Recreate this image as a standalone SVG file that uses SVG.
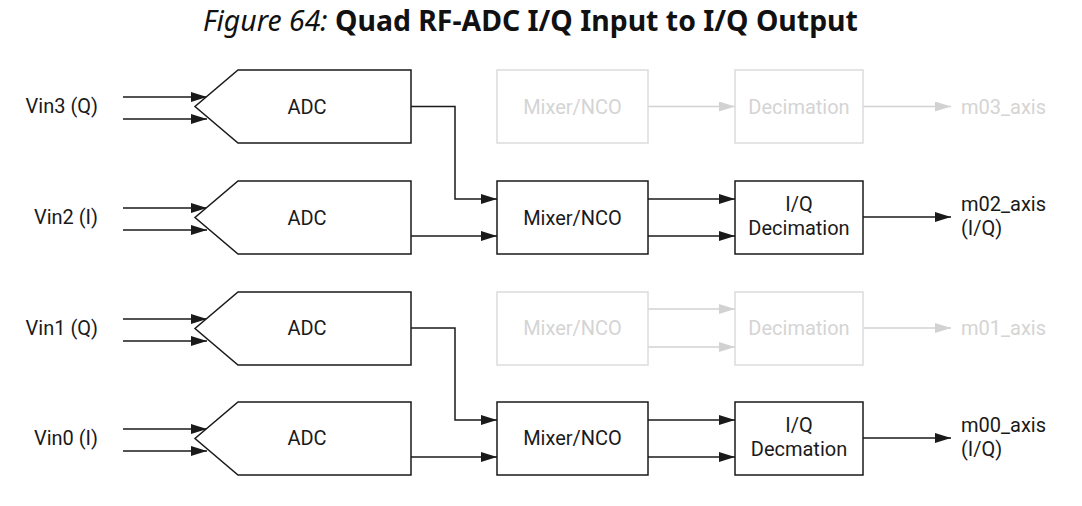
<svg xmlns="http://www.w3.org/2000/svg" width="1082" height="506" viewBox="0 0 1082 506">
<style>
.t{font-family:Roboto,"Liberation Sans",sans-serif;font-size:20px;fill:#1a1a1a}
.tc{text-anchor:middle}
.te{text-anchor:end}
.g{fill:#d4d4d4}
.box{fill:#fff;stroke:#1a1a1a;stroke-width:1.5}
.gbox{fill:#fff;stroke:#dcdcdc;stroke-width:1.5}
.w{fill:none;stroke:#1a1a1a;stroke-width:1.5}
.gw{fill:none;stroke:#d2d2d2;stroke-width:1.5}
.ttl{font-family:"Noto Sans","Open Sans",sans-serif;font-size:28.4px;fill:#111}
</style>
<defs>
<marker id="a" markerUnits="userSpaceOnUse" markerWidth="17" markerHeight="11" refX="16" refY="5" orient="auto"><path d="M0,0 L16,5 L0,10 z" fill="#1a1a1a"/></marker>
<marker id="ag" markerUnits="userSpaceOnUse" markerWidth="17" markerHeight="11" refX="16" refY="5" orient="auto"><path d="M0,0 L16,5 L0,10 z" fill="#d2d2d2"/></marker>
</defs>
<text class="ttl" x="203" y="31"><tspan font-style="italic">Figure 64:</tspan> <tspan font-weight="bold">Quad RF-ADC I/Q Input to I/Q Output</tspan></text>

<g id="connectors">
<path class="w" marker-end="url(#a)" d="M123,97 H207"/>
<path class="w" marker-end="url(#a)" d="M123,119 H207"/>
<path class="w" marker-end="url(#a)" d="M123,208 H207"/>
<path class="w" marker-end="url(#a)" d="M123,230 H207"/>
<path class="w" marker-end="url(#a)" d="M123,319 H207"/>
<path class="w" marker-end="url(#a)" d="M123,341 H207"/>
<path class="w" marker-end="url(#a)" d="M123,429 H207"/>
<path class="w" marker-end="url(#a)" d="M123,451 H207"/>
<path class="w" marker-end="url(#a)" d="M411,106.5 H455 V199 H497"/>
<path class="w" marker-end="url(#a)" d="M411,236 H497"/>
<path class="w" marker-end="url(#a)" d="M411,328 H455 V420 H497"/>
<path class="w" marker-end="url(#a)" d="M411,457 H497"/>
<path class="w" marker-end="url(#a)" d="M648,199 H735"/>
<path class="w" marker-end="url(#a)" d="M648,236 H735"/>
<path class="w" marker-end="url(#a)" d="M648,420 H735"/>
<path class="w" marker-end="url(#a)" d="M648,457 H735"/>
<path class="w" marker-end="url(#a)" d="M863,217 H951"/>
<path class="w" marker-end="url(#a)" d="M863,438 H951"/>
<path class="gw" marker-end="url(#ag)" d="M648,106.5 H735"/>
<path class="gw" marker-end="url(#ag)" d="M863,106.5 H951"/>
<path class="gw" marker-end="url(#ag)" d="M648,309 H735"/>
<path class="gw" marker-end="url(#ag)" d="M648,347 H735"/>
<path class="gw" marker-end="url(#ag)" d="M863,328 H951"/>
</g>

<g id="vin3"><text class="t te" x="98" y="113">Vin3 (Q)</text></g>
<g id="vin2"><text class="t te" x="98" y="224">Vin2 (I)</text></g>
<g id="vin1"><text class="t te" x="98" y="335">Vin1 (Q)</text></g>
<g id="vin0"><text class="t te" x="98" y="445">Vin0 (I)</text></g>

<g id="adc3"><path class="box" d="M238,70 H411 V143 H238 L195,106.5 Z"/><text class="t tc" x="307" y="113.5">ADC</text></g>
<g id="adc2"><path class="box" d="M238,181 H411 V254 H238 L195,217.5 Z"/><text class="t tc" x="307" y="224.5">ADC</text></g>
<g id="adc1"><path class="box" d="M238,292 H411 V365 H238 L195,328.5 Z"/><text class="t tc" x="307" y="335">ADC</text></g>
<g id="adc0"><path class="box" d="M238,402 H411 V475 H238 L195,438.5 Z"/><text class="t tc" x="307" y="445">ADC</text></g>

<g id="mixer3"><rect class="gbox" x="497" y="70" width="151" height="73"/><text class="t tc g" x="572.5" y="113.5">Mixer/NCO</text></g>
<g id="mixer2"><rect class="box" x="497" y="181" width="151" height="73"/><text class="t tc" x="572.5" y="224.5">Mixer/NCO</text></g>
<g id="mixer1"><rect class="gbox" x="497" y="292" width="151" height="73"/><text class="t tc g" x="572.5" y="335">Mixer/NCO</text></g>
<g id="mixer0"><rect class="box" x="497" y="402" width="151" height="73"/><text class="t tc" x="572.5" y="445">Mixer/NCO</text></g>

<g id="dec3"><rect class="gbox" x="735" y="70" width="128" height="73"/><text class="t tc g" x="799" y="113.5">Decimation</text></g>
<g id="dec2"><rect class="box" x="735" y="181" width="128" height="73"/><text class="t tc" x="799" y="211">I/Q</text><text class="t tc" x="799" y="235">Decimation</text></g>
<g id="dec1"><rect class="gbox" x="735" y="292" width="128" height="73"/><text class="t tc g" x="799" y="335">Decimation</text></g>
<g id="dec0"><rect class="box" x="735" y="402" width="128" height="73"/><text class="t tc" x="799" y="432">I/Q</text><text class="t tc" x="799" y="456">Decmation</text></g>

<g id="m03"><text class="t g" x="961" y="113.5">m03_axis</text></g>
<g id="m02"><text class="t" x="961" y="211">m02_axis</text><text class="t" x="961" y="235">(I/Q)</text></g>
<g id="m01"><text class="t g" x="961" y="335">m01_axis</text></g>
<g id="m00"><text class="t" x="961" y="432">m00_axis</text><text class="t" x="961" y="456">(I/Q)</text></g>
</svg>
